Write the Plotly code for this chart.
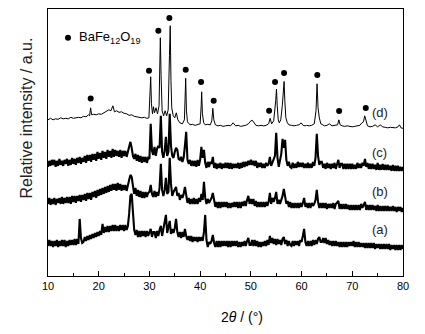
import plotly.graph_objects as go

# ---- data -----------------------------------------------------------------
# curve (d): (2theta, intensity) pairs, thin line
curve_d = [(10,156),(10.5,157.5),(11,156),(11.5,157),(12,156.5),(12.5,158),(13,157),(13.5,157.5),(14,157),(14.5,158.5),(15,157.5),(15.5,158),(16,158.5),(16.5,158),(17,159.5),(17.5,159),(18,161),(18.2,160),(18.4,168),(18.6,161),(19,161.5),(19.5,161),(20,162),(20.5,161.5),(21,163),(21.5,164),(22,166),(22.4,165),(22.8,170),(23.1,164),(23.5,165),(24,163.5),(24.5,164),(25,162.5),(25.5,162),(26,160.5),(26.5,161),(27,159.5),(27.5,159),(28,158.5),(28.5,158),(29,158.5),(29.5,157.5),(29.9,158),(30.1,175),(30.25,199),(30.4,172),(30.6,162),(30.8,169),(31.0,163),(31.3,168),(31.6,162),(31.9,170),(32.05,215),(32.15,238),(32.3,200),(32.5,165),(32.8,160),(33.1,165),(33.4,160),(33.7,166),(33.95,220),(34.1,250),(34.25,195),(34.4,168),(34.7,160),(35.0,158),(35.3,163),(35.6,156),(36,153),(36.5,152),(36.9,156),(37.05,185),(37.15,197.5),(37.3,165),(37.5,154),(38,151),(38.5,151.5),(39,150.5),(39.5,151),(40,152),(40.2,170),(40.3,184),(40.45,162),(40.7,153),(41,151),(41.5,151.5),(42,151),(42.3,155),(42.5,167.5),(42.7,156),(43,151),(43.5,150),(44,150.5),(44.5,149.5),(45,150),(45.5,150.5),(46,150),(46.5,153),(47,150),(47.5,150.5),(48,149.5),(48.5,150),(49,150.5),(49.5,152),(50,155),(50.3,155.5),(50.7,152),(51,150.5),(51.5,150),(52,150.5),(52.5,150),(53,150.5),(53.5,152),(53.8,157.5),(54.1,152),(54.5,155),(54.9,175),(55.05,186.7),(55.2,170),(55.4,156),(55.6,153),(55.9,156),(56.2,170),(56.4,185),(56.55,194.3),(56.7,175),(56.9,158),(57.2,153),(57.5,151),(58,150.5),(58.5,150),(59,150.5),(59.5,151),(59.9,153),(60.3,150.5),(60.7,150),(61,150.5),(61.5,150),(62,150.5),(62.5,152),(62.85,165),(63.05,192),(63.25,168),(63.5,158),(63.8,152),(64.2,151),(64.5,150),(65,150.5),(65.5,152),(66,150),(66.5,150.5),(67.1,151),(67.35,156),(67.6,151),(68,150),(68.5,149.5),(69,150),(69.5,149.5),(70,149),(70.5,149.5),(71,150),(71.5,150.5),(71.9,153),(72.2,154),(72.45,160),(72.7,155),(73,150),(73.5,149),(74,149.5),(74.5,151),(75,149),(75.5,151),(76,149),(76.5,148.5),(77,148),(77.5,148.5),(78,148),(78.5,148),(79,149),(79.3,151),(79.6,148),(80,147.5)]

# noisy curves (c), (b), (a): intensities sampled every 0.25 deg from 10 to 80
step_deg = 0.25
curve_c = [109,115,110,116, 111,116,109,115, 110,117,111,115, 110,116,112,117, 110,116,111,118,
           112,117,111,118, 113,119,112,118, 114,120,113,121, 115,121,114,122, 116,122,115,124,
           117,123,116,125, 118,124,117,126, 119,125,118,127, 119,126,120,125, 119,126,118,125,
           120,125,119,124, 126,134,128,120, 117,122,115,121, 114,120,113,119, 114,119,113,118,
           117,152,125,121, 129,120,127,130, 128,160,124,118, 125,139,120,124, 162,130,120,118,
           124,128,126,117, 116,119,114,118, 130,144,116,112, 116,110,115,110, 115,109,116,110,
           116,129,118,126, 113,108,114,109, 114,112,119,108, 113,107,112,108, 113,107,112,108,
           113,108,113,107, 113,107,112,108, 112,108,113,107, 113,108,114,109, 114,110,115,111,
           116,111,115,110, 115,108,113,109, 113,108,112,108, 113,110,112,119, 110,113,116,120,
           143,118,109,115, 122,137,128,136, 116,110,114,109, 108,113,108,112, 108,114,109,113,
           109,113,108,112, 108,113,108,112, 108,114,110,118, 142,120,111,114, 114,108,112,107,
           113,108,112,107, 112,108,113,107, 113,116,108,112, 112,107,112,107, 112,107,112,107,
           112,107,111,107, 113,108,112,108, 113,110,117,109, 113,107,112,107, 112,107,111,106,
           113,106,111,106, 112,106,111,106, 111,106,110,105, 111,105,110,105, 110,105,109,105,
           109]
curve_b = [72,78,71,77, 72,78,71,77, 73,78,72,79, 72,78,73,79, 73,79,72,80,
           74,80,73,80, 75,81,74,81, 76,82,75,83, 77,83,76,84, 79,85,78,86,
           80,87,81,88, 82,89,83,90, 84,91,85,92, 86,92,85,93, 86,92,85,91,
           86,91,85,92, 96,101,99,90, 82,88,80,86, 79,85,78,84, 78,84,79,83,
           84,91,82,79, 85,79,84,80, 88,112,86,80, 86,98,82,84, 118,92,80,84,
           86,89,80,83, 76,81,78,82, 89,78,73,78, 72,77,72,78, 72,77,72,78,
           74,82,76,94, 78,72,77,73, 76,78,83,75, 69,74,68,74, 68,74,69,74,
           69,74,68,73, 68,73,69,74, 69,74,68,74, 68,74,70,75, 70,76,80,72,
           77,72,77,70, 75,69,74,69, 74,69,74,69, 74,70,74,83, 72,78,74,78,
           84,72,76,72, 76,80,87,80, 72,75,69,74, 68,73,68,73, 68,73,68,73,
           69,73,78,69, 73,68,73,68, 73,70,72,76, 86,74,68,73, 68,73,68,73,
           67,72,68,72, 68,73,67,72, 73,75,67,72, 67,72,67,72, 67,71,66,71,
           66,71,66,71, 66,71,66,72, 68,71,74,66, 71,66,71,66, 71,66,70,65,
           71,65,70,65, 70,65,70,65, 70,65,69,65, 70,65,69,64, 69,65,69,64,
           68]
curve_a = [30,36,30,35, 29,35,30,36, 29,35,30,36, 30,36,29,35, 30,36,31,36,
           31,37,31,37, 32,57,38,33, 34,39,35,40, 36,41,37,42, 38,43,39,44,
           40,45,41,52, 43,49,44,50, 44,50,45,51, 45,51,45,50, 45,51,46,51,
           45,51,46,50, 62,80,82,60, 46,41,46,39, 45,39,45,40, 45,39,45,40,
           44,47,39,44, 44,38,45,40, 46,50,40,46, 52,61,43,48, 55,42,47,43,
           48,57,44,39, 44,38,44,39, 47,40,36,40, 35,40,34,39, 35,39,34,39,
           35,39,35,44, 61,36,29,34, 32,35,41,33, 29,35,29,35, 29,35,30,35,
           30,35,29,35, 29,35,30,35, 30,35,29,34, 29,34,30,35, 30,35,38,31,
           31,36,30,36, 30,35,29,34, 29,34,30,35, 30,36,31,40, 33,38,32,37,
           31,37,32,36, 31,37,39,32, 36,30,35,31, 30,35,30,35, 31,35,30,36,
           34,40,47,34, 30,35,30,35, 30,36,31,36, 32,37,39,34, 34,38,33,38,
           32,36,31,35, 30,35,30,35, 30,34,29,34, 29,34,29,34, 29,34,30,34,
           30,35,29,34, 29,34,29,33, 29,33,28,33, 28,33,28,33, 28,33,27,32,
           28,32,27,32, 27,32,27,32, 27,32,26,31, 27,31,26,31, 26,31,26,31,
           27]

# BaFe12O19 reflection markers (2theta, marker height)
marker_x = [18.42, 29.92, 31.76, 33.93, 37.15, 40.18, 42.67, 53.6, 54.77, 56.55, 63.1, 67.4, 72.66]
marker_y = [177.4, 205, 245, 257.7, 206, 193.7, 175, 165, 193.7, 202.7, 200.7, 164.7, 167.7]

curve_labels = ["(d)", "(c)", "(b)", "(a)"]
label_y = [163, 123, 84, 46]
x_ticks = [10, 20, 30, 40, 50, 60, 70, 80]
# ---------------------------------------------------------------------------

FONT = "Liberation Sans, Arial"
fig = go.Figure()

for ys in (curve_a, curve_b, curve_c):
    xs = [10 + step_deg * i for i in range(len(ys))]
    fig.add_trace(go.Scatter(x=xs, y=ys, mode="lines", line=dict(color="black", width=2.1),
                             showlegend=False, hoverinfo="skip"))
fig.add_trace(go.Scatter(x=[p[0] for p in curve_d], y=[p[1] for p in curve_d], mode="lines",
                         line=dict(color="black", width=1.0), showlegend=False, hoverinfo="skip"))

fig.add_trace(go.Scatter(x=marker_x, y=marker_y, mode="markers",
                         marker=dict(color="black", size=6), showlegend=False, hoverinfo="skip"))
# legend symbol
fig.add_trace(go.Scatter(x=[13.94], y=[238], mode="markers",
                         marker=dict(color="black", size=6), showlegend=False, hoverinfo="skip"))
fig.add_annotation(x=15.7, y=238, xanchor="left", yanchor="middle", showarrow=False,
                   text="BaFe<sub>12</sub>O<sub>19</sub>",
                   font=dict(family=FONT, size=13, color="black"))

for t, yv in zip(curve_labels, label_y):
    fig.add_annotation(x=75.4, y=yv, xanchor="center", yanchor="middle", showarrow=False,
                       text=t, font=dict(family=FONT, size=13, color="#222"))

fig.add_annotation(xref="paper", yref="paper", x=(241.7 - 48) / 355, y=(276 - 317) / 266.7,
                   xanchor="center", yanchor="middle", showarrow=False,
                   text="2<i>θ</i> / (°)", font=dict(family=FONT, size=14, color="black"))
fig.add_annotation(xref="paper", yref="paper", x=(26.7 - 48) / 355, y=(276 - 118) / 266.7,
                   xanchor="center", yanchor="middle", showarrow=False, textangle=-90,
                   text="Relative intensity / a.u.", font=dict(family=FONT, size=16, color="#222"))

# page body has an 8px default margin; size/margins compensate so the plot frame
# lands at x 48..403, y 9..276 of the 425x334 window
fig.update_layout(
    width=417, height=326,
    margin=dict(l=40, r=22, t=1, b=58),
    paper_bgcolor="white", plot_bgcolor="white",
    font=dict(family=FONT, size=11, color="black"),
    xaxis=dict(range=[10, 80], tickvals=x_ticks, ticks="inside", ticklen=5, tickwidth=1,
               tickcolor="black", showline=True, linecolor="black", linewidth=1, mirror=True,
               showgrid=False, zeroline=False,
               minor=dict(ticks="inside", ticklen=3, dtick=5, tickcolor="black", showgrid=False),
               tickfont=dict(size=11)),
    yaxis=dict(range=[0, 266.7], showticklabels=False, ticks="", showline=True, linecolor="black",
               linewidth=1, mirror=True, showgrid=False, zeroline=False),
)

fig.write_html("out.html")
